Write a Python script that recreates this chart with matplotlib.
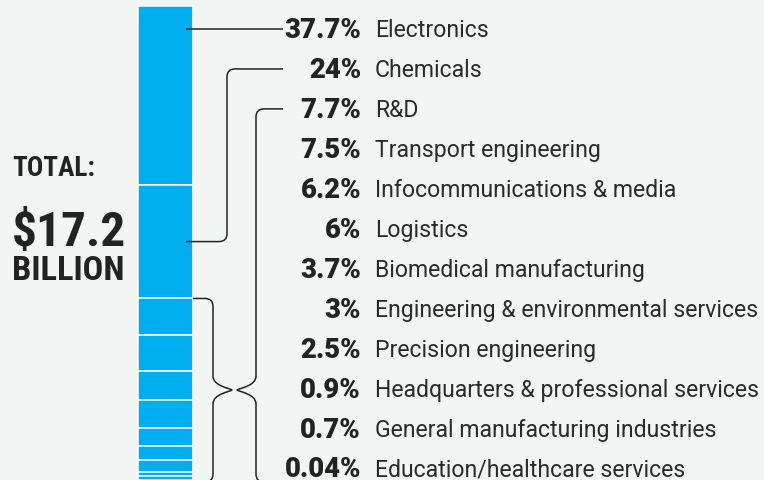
import matplotlib
matplotlib.use("Agg")
import numpy as np
from matplotlib import pyplot as plt
from matplotlib import font_manager
from matplotlib.path import Path
from matplotlib.patches import PathPatch

# %% data
sectors = ["Electronics", "Chemicals", "R&D", "Transport engineering",
           "Infocommunications & media", "Logistics", "Biomedical manufacturing",
           "Engineering & environmental services", "Precision engineering",
           "Headquarters & professional services", "General manufacturing industries",
           "Education/healthcare services"]
shares = [37.7, 24, 7.7, 7.5, 6.2, 6, 3.7, 3, 2.5, 0.9, 0.7, 0.04]
share_labels = ["37.7%", "24%", "7.7%", "7.5%", "6.2%", "6%", "3.7%", "3%",
                "2.5%", "0.9%", "0.7%", "0.04%"]
total_lines = ["TOTAL:", "$17.2", "BILLION"]

# %% style
BG = "#f3f4f4"
BLUE = "#00aeef"
INK = "#222222"
top, scale = 6, 4.74          # px where bar starts, px per percent
row0, row_gap = 29, 39.95

names = {f.name for f in font_manager.fontManager.ttflist}
if 'Roboto Condensed' in names:
    title_font = dict(family='Roboto Condensed')
else:
    title_font = dict(family='DejaVu Sans', stretch='condensed')

fig = plt.figure(figsize=(7.64, 4.8), dpi=100, facecolor=BG)
ax = fig.add_axes([0, 0, 1, 1])
ax.set_xlim(0, 764)
ax.set_ylim(480, 0)
ax.axis('off')
ax.set_facecolor(BG)

# %% bar
cum = np.concatenate([[0], np.cumsum(shares)[:-1]])
ax.bar(165.5, np.array(shares) * scale, bottom=top + cum * scale, width=55,
       color=BLUE, edgecolor='white', linewidth=1.1)

# %% labels
rows = row0 + row_gap * np.arange(len(sectors))
for y, s, lab in zip(rows, sectors, share_labels):
    ax.text(361, y + 9, lab, ha='right', va='baseline', fontsize=19.8,
            fontweight='heavy', family='Roboto', color=INK)
    ax.text(375, y + 8, s, ha='left', va='baseline', fontsize=16.6,
            family='Roboto', color='#2a2a2a')


def fit(txt, x, y, width, weight='bold'):
    t = ax.text(x, y, txt, ha='left', va='baseline', fontsize=20,
                fontweight=weight, color=INK, **title_font)
    fig.canvas.draw()
    w = t.get_window_extent().width
    t.set_fontsize(20 * width / w)
    return t


fit(total_lines[0], 12, 176, 83)
fit(total_lines[1], 12, 246, 114)
fit(total_lines[2], 12, 280, 113)

# %% connectors
M, L, C3, C4 = Path.MOVETO, Path.LINETO, Path.CURVE3, Path.CURVE4
r = 8
seg_mid = top + (cum + np.array(shares) / 2) * scale
seg_top = top + cum * scale
bx = 193


def draw(verts, codes):
    ax.add_patch(PathPatch(Path(verts, codes), fill=False, ec=INK, lw=1.1,
                           capstyle='butt', joinstyle='round'))


# electronics
ax.plot([186, 283], [rows[0], rows[0]], color=INK, lw=1.1, solid_capstyle='butt')

# chemicals
xc, y1, y0 = 227, seg_mid[1], rows[1]
draw([(186, y1), (xc - r, y1), (xc, y1), (xc, y1 - r), (xc, y0 + r), (xc, y0),
      (xc + r, y0), (283, y0)],
     [M, L, C3, C3, L, C3, C3, L])

# brace for the small sectors
ym = 390
xl, xr, tl, tr = 213, 256, 232, 237
yt = seg_top[2]
draw([(bx, yt), (xl - r, yt), (xl, yt), (xl, yt + r), (xl, ym - 14),
      (xl, ym - 4), (tl - 3, ym - 2), (tl, ym),
      (tl - 3, ym + 2), (xl, ym + 4), (xl, ym + 14),
      (xl, 474), (xl, 482), (xl - r, 482)],
     [M, L, C3, C3, L, C4, C4, C4, C4, C4, C4, L, C3, C3])
yr = rows[2]
draw([(283, yr), (xr + r, yr), (xr, yr), (xr, yr + r), (xr, ym - 14),
      (xr, ym - 4), (tr + 3, ym - 2), (tr, ym),
      (tr + 3, ym + 2), (xr, ym + 4), (xr, ym + 14),
      (xr, 474), (xr, 482), (xr + r, 482)],
     [M, L, C3, C3, L, C4, C4, C4, C4, C4, C4, L, C3, C3])

fig.savefig('out.png', dpi=100, facecolor=BG)
